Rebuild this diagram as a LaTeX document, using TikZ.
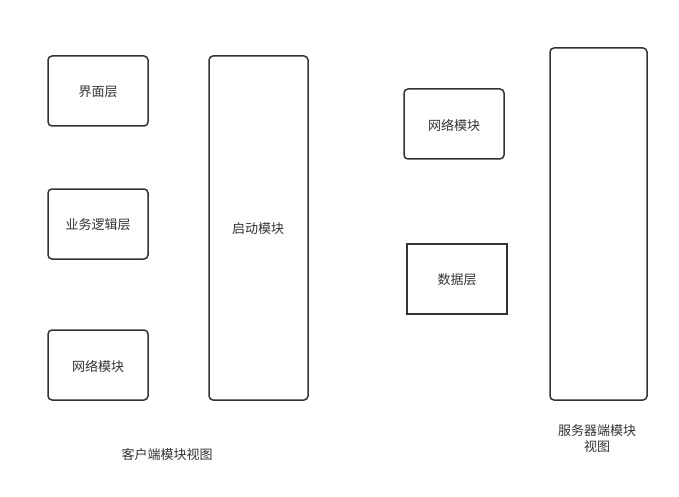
\documentclass[tikz,border=0pt]{standalone}
\usepackage{fontspec}
\setmainfont{Noto Sans CJK SC}
\begin{document}
\begin{tikzpicture}[x=1pt,y=-1pt,
  box/.style={draw=black!80,line width=1.5pt,rounded corners=4pt},
  sbox/.style={draw=black!80,line width=1.5pt},
  lbl/.style={text=black!80,font=\fontsize{13}{16}\selectfont,align=center,inner sep=0pt}]
\useasboundingbox[fill=white] (0,0) rectangle (679,497);
\draw[box] (48,56) rectangle (148,126);
\node[lbl] (a) at (98,92) {界面层};
\draw[box] (48,189) rectangle (148,259);
\node[lbl] (b) at (98,225) {业务逻辑层};
\draw[box] (48,330) rectangle (148,400);
\node[lbl] (c) at (98,366) {网络模块};
\draw[box] (209,56) rectangle (308,400);
\node[lbl] (d) at (258,229) {启动模块};
\draw[box] (404,89) rectangle (504,159);
\node[lbl] (e) at (454,125) {网络模块};
\draw[sbox] (407,244) rectangle (507,314);
\node[lbl] (f) at (457,280) {数据层};
\draw[box] (550,48) rectangle (647,400);
\node[lbl] (g) at (167,455) {客户端模块视图};
\node[lbl] (h) at (597,439) {服务器端模块\\视图};
\end{tikzpicture}
\end{document}
